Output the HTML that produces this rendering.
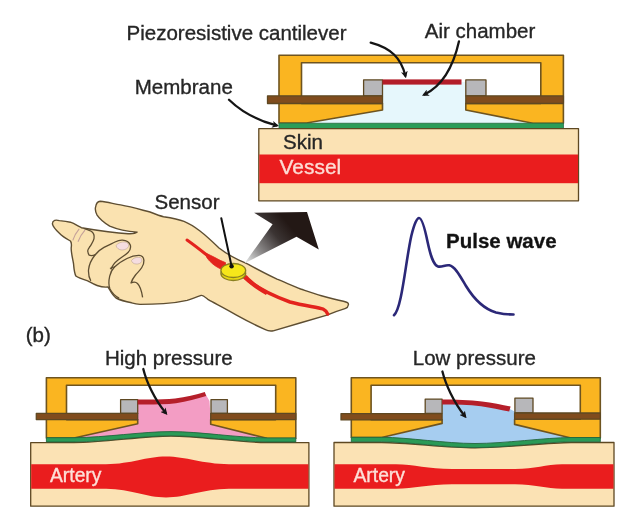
<!DOCTYPE html>
<html>
<head>
<meta charset="utf-8">
<title>Pulse wave sensor</title>
<style>
html,body{margin:0;padding:0;background:#fff;}
body{width:637px;height:517px;overflow:hidden;}
svg{display:block;filter:blur(0.55px);}
text{font-family:"Liberation Sans",sans-serif;font-size:20.5px;fill:#262626;stroke:#262626;stroke-width:0.35px;}
.ol{stroke:#5e4822;stroke-width:1.3;stroke-linejoin:round;}
.hs{stroke:#6e5420;stroke-width:1.6;}
.ann{fill:none;stroke:#151515;stroke-width:2.3;stroke-linecap:round;}
</style>
</head>
<body>
<svg width="637" height="517" viewBox="0 0 637 517">
<defs>
<linearGradient id="ag" gradientUnits="userSpaceOnUse" x1="246" y1="262" x2="290" y2="226">
<stop offset="0" stop-color="#e4e6e6"/>
<stop offset="0.3" stop-color="#8f8d8d"/>
<stop offset="0.7" stop-color="#3b3433"/>
<stop offset="1" stop-color="#231815"/>
</linearGradient>
<marker id="ah" viewBox="0 0 10 10" refX="6" refY="5" markerWidth="3" markerHeight="3" orient="auto">
<path d="M0,0 L10,5 L0,10 L2.5,5 z" fill="#151515"/>
</marker>
</defs>
<rect width="637" height="517" fill="#fff"/>

<!-- ============ TOP SENSOR ============ -->
<g id="top">
<!-- air chamber -->
<path d="M382.5,82 H466 V110 L533,123.5 H306 L382.5,110 Z" fill="#e6f7fc"/>
<!-- housing -->
<path class="ol hs" fill="#fab521" d="M279,55.2 H563.4 V123.3 H533 L465.8,110 V103.5 H540.8 V62.7 H301.5 V103.5 H382.5 V110 L306.5,123 H279 Z"/>
<!-- grey blocks -->
<rect class="ol" x="363.6" y="79.9" width="18.9" height="16" fill="#b7b7ba"/>
<rect class="ol" x="465.8" y="79.9" width="20.2" height="16" fill="#b7b7ba"/>
<!-- brown plates -->
<rect class="ol" x="267.5" y="95.9" width="115" height="7.6" fill="#804c1d"/>
<rect class="ol" x="465.8" y="95.9" width="97.6" height="7.6" fill="#804c1d"/>
<!-- cantilever -->
<rect x="382.5" y="79.4" width="79" height="5.2" fill="#b31d29"/>
<!-- membrane -->
<rect x="279" y="123.2" width="284.4" height="5.2" fill="#2b9c58" stroke="#2a6e44" stroke-width="0.8"/>
<!-- skin -->
<rect class="ol" x="258.8" y="128.6" width="319.7" height="72.2" fill="#fbe2b4"/>
<rect x="259.3" y="154.5" width="318.7" height="28.7" fill="#ea1d1e"/>
<text x="283" y="149">Skin</text>
<text x="279.6" y="174.1" style="fill:#fddcd4;stroke:#fddcd4;font-size:20.9px">Vessel</text>
</g>

<!-- labels top -->
<text x="126.6" y="40.3">Piezoresistive cantilever</text>
<text x="424.8" y="37.7">Air chamber</text>
<text x="134.8" y="94.3">Membrane</text>
<path class="ann" d="M370.7,42.6 C391,48 401,58 405.3,75.5" marker-end="url(#ah)"/>
<path class="ann" d="M459,41.3 C453,68 442,86 424.5,94.5" marker-end="url(#ah)"/>
<path class="ann" d="M229,99.8 C240,110.5 257,120.3 276.3,125.4" marker-end="url(#ah)"/>

<!-- ============ HAND ============ -->
<g id="hand">
<path class="ol" style="stroke-width:1.4;stroke:#5e4e32" fill="#fae2b0" d="M100.2,201.3 C108,202 114,204 120.6,204.9 C132,207 142,210 150,212 C155,214 160,216 163.5,216.7 C172,218 178,219 184,221.4 C190,223.8 195.5,227.6 200,231 C206,235.6 212,241.2 219,248 C224,252 231,256.3 238.4,259.8 C242,261.5 246,263.3 248.8,264.6 C258,269.8 268,274.8 277,279.2 C286,283 294,286 300.6,289 C308,291.5 315,294 321.4,295.7 C330,298 338,300 343.4,301.2 C347,302 349,303 348.3,305 C348,307 347,308 345.7,308.3 C340,310 334,312 327,315.2 C310,320 290,326 273.2,330.8 C270,331.5 267,330.5 264.8,329.3 C255,325 245,320 236.5,315.2 C226,309 216,304 208.3,299.7 C205,297 203,295 201.2,295.4 C196,297 192,299 187.1,300.4 C178,302.5 170,303.3 163.5,303.6 C155,304.2 148,304.4 140,304.4 C137,304.2 134,303.5 131.6,302.8 C125,301.5 120,300 116,298 C112,295 110,290 108,287 C104,287.5 100,286.5 97.1,285.5 C93,284 90,282 87.7,280.8 C83,279.5 78,278 75.9,276.1 C74,272 74,268 73.5,263.5 C72.5,258 71,252 71.2,247.8 C71.5,245 72,243 70.4,241 C66,238.5 62,236 59.4,233.2 C56,230 53,227 52.4,223.8 C52.5,220 56,219.5 59.4,220.6 C63,221 67,221.5 70.4,222.2 C74,223.5 78,226 81.4,227.7 C95,230 112,232.8 128,233.7 C132,233.9 136,233.2 137.2,232.1 C130,231.6 119,230 109.7,226.1 C103,222 99,218 97.1,215.1 C95.5,212 95,209.5 95.5,207.3 C96,204 98,201.5 100.2,201.3 Z"/>
<!-- thumb/finger gap white sliver -->
<!-- finger details -->
<g fill="none" class="ol" style="stroke-width:1.3;stroke:#5e4e32">
<path d="M83.8,228.5 C87,229.5 90,230.3 91.6,231.6 C94,233.5 94.5,236 94,238.7 C93.5,241.5 91.5,244 90,246.5 C88.5,248.5 87.5,249.5 87.7,251 C88,253 88.5,254.5 89.2,255.2 C91,256 93.5,255.5 95.5,254.6"/>
<path d="M90.8,280.8 C89,278 88.3,275 88.5,270 C89,265 91,260 95,255 C98,251 101,249 104,247.4 C108,245.3 112,243.5 115,242 C117.5,240.8 120,240 122.5,240.2 C126,240.5 129,242 130.3,245 C131,247.5 130.5,250 128,252.5 C125,255.5 121,257.5 118,260 C114.5,262.8 112,266 111,269.5"/>
<path d="M119.1,298.1 C115,296 112,293 110,289 C108.5,285.5 108.8,280 109.7,276.1 C110.5,272.5 112,269.5 114.5,267 C118,263.5 123,260.5 127,258.5 C131,256.5 135,255.3 139,255.4 C142,255.5 143.7,257.5 143.9,260.4 C144,263 143.5,265 141.8,267.5 C140,270.5 137.5,272.5 135.5,275 C133.5,277.5 132,280 131,283 C133,282 135.5,281.5 137.5,283.5 C140,286 141.5,290 142.6,297.3"/>
<path d="M110,268.5 C111.5,267.5 113.5,267 115,266.8" />
</g>
<!-- nails -->
<path d="M116,245.5 C118,243 121.5,241.6 125,242 C127.5,242.4 129,244 128.6,246.2 C128,248.5 125,250 122,250 C119,250 116.5,248 116,245.5 Z" fill="#f5dde0" stroke="#b39a8a" stroke-width="0.5"/>
<path d="M131.5,260.5 C133,258.3 136,257 139,257.3 C141.3,257.6 142.3,259.3 141.8,261.3 C141,263.3 138.5,264.3 136,264 C133.5,263.8 131.8,262.5 131.5,260.5 Z" fill="#f5dde0" stroke="#b39a8a" stroke-width="0.5"/>
<!-- ring -->
<path d="M79.2,228.8 C76.5,232 74.2,236 72.8,240.3 M85,230.2 C82,233.5 79.5,237.5 78,241.8" fill="none" stroke="#c4a09a" stroke-width="1.1"/>
<!-- vessel -->
<path d="M187,240 C193,244.2 200,249.6 208,256" fill="none" stroke="#e3231d" stroke-width="3" stroke-linecap="round"/><path d="M205.5,253 C209,254.6 212,256 215,257.6 C218.5,259.6 222,261.4 225.5,262.6 L225.5,270.5 C221,269.5 216.5,267 213,264.2 C210.5,262.2 208.5,260 206.8,257.6 Z" fill="#e3231d" stroke="#e3231d" stroke-width="0.8" stroke-linejoin="round"/>
<path d="M240,272 L247,275.5 C252,281 258,285.5 268,291.5 L266,295 C257,290 250,285 244,279 Z" fill="#e3231d"/><path d="M243,276 C255,287 270,295 290,302 C305,306 318,307 323,309 C326,310.5 327,312 327.7,314" fill="none" stroke="#e3231d" stroke-width="3.5" stroke-linecap="round"/>
<!-- sensor disc -->
<ellipse class="ol" cx="233.3" cy="273.5" rx="12.4" ry="7" fill="#e8d913" style="stroke:#8a8020"/>
<ellipse class="ol" cx="233.3" cy="270.5" rx="12.4" ry="7" fill="#f6e71a" style="stroke:#8a8020"/>
</g>

<!-- big arrow -->
<path d="M244.6,263.2 L272.6,224.3 L254.1,212.7 L307,212 L318.8,249.6 L296.5,236.8 Z" fill="url(#ag)"/>
<!-- sensor pointer -->
<path d="M221.3,218.3 L231.6,266.2" stroke="#111" stroke-width="2" fill="none" stroke-linecap="round"/>
<circle cx="231.6" cy="266.2" r="2.2" fill="#111"/>
<text x="154.5" y="208.8">Sensor</text>

<!-- pulse wave -->
<path d="M394,315.2 C402,308 405.5,262 411.3,236 C414.5,222.5 417.2,218 419,218 C421,218 423.8,223.5 427.6,242 C430.4,255 433.2,265 438,266.5 C442,267.5 445,264.5 449.3,265.3 C455,266.5 460,276 466,286 C474,299 484,309 496,312.5 C502,314 508,314.5 513.5,314.5" fill="none" stroke="#2b2878" stroke-width="2.6" stroke-linecap="round" stroke-linejoin="round"/>
<text x="446" y="247.8" style="font-weight:bold;fill:#111">Pulse wave</text>

<text x="25.7" y="341.6">(b)</text>
<text x="105" y="364.8">High pressure</text>
<text x="412.8" y="364.9">Low pressure</text>

<!-- ============ BOTTOM LEFT (high pressure) ============ -->
<g id="bl">
<!-- pink chamber -->
<path d="M137.7,402 C150,402.2 165,402.2 175.5,400.8 C186.5,399.4 196.5,397 205.5,394 L209.5,401 L210.7,419.6 V424.3 L267.8,438 L171,434 L74,438 L137.7,423.7 Z" fill="#f39dc4"/>
<!-- housing -->
<path class="ol" style="stroke-width:1.6;stroke:#6e5420" fill="#fab521" d="M46.4,377.7 H295.8 V438.5 H267.8 L210.7,424.3 V419.6 H275.7 V385.3 H66.5 V419.6 H137.7 V423.7 L74,438 H46.4 Z"/>
<rect class="ol" x="120.6" y="399.6" width="17.1" height="13.8" fill="#b7b7ba"/>
<rect class="ol" x="211" y="399.6" width="16.4" height="13.8" fill="#b7b7ba"/>
<rect class="ol" x="36.3" y="413.4" width="101.4" height="6.2" fill="#804c1d"/>
<rect class="ol" x="210.7" y="413.4" width="85.1" height="6.2" fill="#804c1d"/>
<!-- cantilever -->
<path d="M137.7,399.4 C150,399.6 165,399.6 175,398.4 C186,397 196,394.6 204.8,392 L206.2,396 C197,398.8 187,401.6 176,403.2 C165,404.6 150,404.6 137.7,404.5 Z" fill="#b51f2a"/>
<!-- skin -->
<path class="ol" fill="#fbe2b4" d="M30.7,442.6 H74 C106,442.4 142,436 171,436 C200,436 236,442.4 267.8,442.6 H308.9 V506.2 H30.7 Z"/>
<!-- membrane -->
<path class="ol" style="stroke:#22663e;stroke-width:0.9" fill="#2a9a56" d="M46.4,437.7 H74 C106,437.5 142,431.6 171,431.6 C200,431.6 236,437.7 267.8,437.9 H295.8 V441.9 H267.8 C236,441.7 200,435.8 171,435.8 C142,435.8 106,441.7 74,441.9 H46.4 Z"/>
<!-- artery -->
<path fill="#ea1d1e" d="M31.2,464.3 H106 C132,464 146,456.6 166,456.6 C186,456.6 202,464 229,464.3 H308.4 V488.7 H229 C202,489 186,497.4 166,497.4 C146,497.4 132,489 106,488.7 H31.2 Z"/>
<text x="50" y="481.7" style="fill:#fde0d8;stroke:#fde0d8;font-size:19.3px">Artery</text>
<path class="ann" d="M143.3,369 C146.3,381.5 154.5,399.5 165.6,412.8" marker-end="url(#ah)"/>
</g>

<!-- ============ BOTTOM RIGHT (low pressure) ============ -->
<g id="br">
<path d="M442.1,402 C455,402 470,402.3 481.5,403.8 C491.5,405.2 501,407 509.9,409.1 L514.6,411.5 V424.4 L571,438 L475,444.5 L381.6,438 L442.1,423.4 Z" fill="#a6cdf0"/>
<path class="ol" style="stroke-width:1.6;stroke:#6e5420" fill="#fab521" d="M351.3,377.7 H600.3 V438 H571 L514.6,424.4 V419.2 H580.3 V385.3 H371.1 V419.8 H442.1 V423.4 L381.6,437.5 H351.3 Z"/>
<rect class="ol" x="425.2" y="399.1" width="16.9" height="14.2" fill="#b7b7ba"/>
<rect class="ol" x="514.9" y="398.2" width="18.1" height="14.8" fill="#b7b7ba"/>
<rect class="ol" x="341" y="413.7" width="101.1" height="6.2" fill="#804c1d"/>
<rect class="ol" x="514.6" y="413" width="85.7" height="6.2" fill="#804c1d"/>
<path d="M442.1,399.4 C455,399.4 470,399.8 482,401.4 C492,402.8 502,404.6 510.6,406.6 L509.2,411.6 C500,409.6 491,407.6 481,406.2 C469,404.8 455,404.5 442.1,404.5 Z" fill="#b51f2a"/>
<path class="ol" fill="#fbe2b4" d="M334,442.5 H381.6 C410,442.7 445,447.8 475,447.8 C505,447.8 545,442.7 571,442.5 H614 V506.2 H334 Z"/>
<path class="ol" style="stroke:#22663e;stroke-width:0.9" fill="#2a9a56" d="M351.3,437.3 H381.6 C410,437.5 445,443.5 475,443.5 C505,443.5 545,437.7 571,437.5 H600.3 V441.8 H571 C545,442 505,447.6 475,447.6 C445,447.6 410,442 381.6,441.8 H351.3 Z"/>
<path fill="#ea1d1e" d="M334.5,464.3 H396 C414,464.5 428,469 452,469 H515 C535,469 546,464.5 562,464.3 H613.5 V488.7 H562 C546,488.6 535,484.2 515,484.2 H452 C428,484.2 414,488.6 396,488.7 H334.5 Z"/>
<text x="353.5" y="481.7" style="fill:#fde0d8;stroke:#fde0d8;font-size:19.3px">Artery</text>
<path class="ann" d="M442.4,371.5 C445.5,384 453.5,402 464.8,416" marker-end="url(#ah)"/>
</g>
</svg>
</body>
</html>
